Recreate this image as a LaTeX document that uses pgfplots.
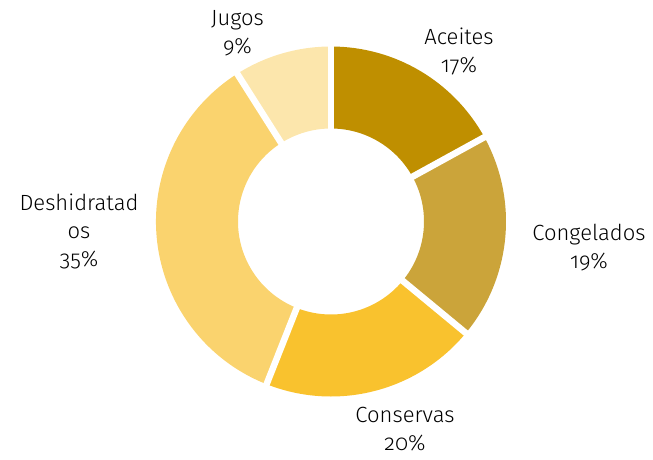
\documentclass[border=0pt]{standalone}
\usepackage{pgfplots}
\pgfplotsset{compat=1.18}
\usepackage{pgfplotstable}
\usepackage{fontspec}
\setmainfont{Fira Sans Light}[Numbers=OldStyle]

\definecolor{cAce}{HTML}{BF8F00}
\definecolor{cCon}{HTML}{CBA43A}
\definecolor{cCsv}{HTML}{F9C22E}
\definecolor{cDes}{HTML}{FAD36E}
\definecolor{cJug}{HTML}{FCE6AC}

% share (%) of each category, clockwise from 12 o'clock
\pgfplotstableread{
name          value col
Aceites       17    cAce
Congelados    19    cCon
Conservas     20    cCsv
Deshidratados 35    cDes
Jugos         9     cJug
}\piedata

\begin{document}
\begin{tikzpicture}
\begin{axis}[
    hide axis,
    scale only axis,
    width=653pt, height=459pt,
    xmin=0, xmax=653, ymin=0, ymax=459,
    clip=false,
]
% keep the whole canvas in the bounding box
\path (axis cs:0,0) rectangle (axis cs:653,459);
\pgfplotsextra{%
  \gdef\cum{0}%
  \pgfplotstablegetrowsof{\piedata}%
  \pgfmathtruncatemacro\nrows{\pgfplotsretval-1}%
  \foreach \i in {0,...,\nrows}{%
    \pgfplotstablegetelem{\i}{value}\of\piedata \let\sliceval\pgfplotsretval
    \pgfplotstablegetelem{\i}{col}\of\piedata \let\slicecol\pgfplotsretval
    \pgfmathsetmacro\aA{90-3.6*\cum}%
    \pgfmathsetmacro\aB{90-3.6*(\cum+\sliceval)}%
    \fill[fill=\slicecol, shift={(axis cs:331,237.5)}]
      (\aA:175pt) arc[start angle=\aA, end angle=\aB, radius=175pt]
      -- (\aB:93pt) arc[start angle=\aB, end angle=\aA, radius=93pt] -- cycle;
    \pgfmathsetmacro\newcum{\cum+\sliceval}%
    \xdef\cum{\newcum}%
  }%
  % white gaps between slices
  \gdef\cum{0}%
  \foreach \i in {0,...,\nrows}{%
    \pgfplotstablegetelem{\i}{value}\of\piedata \let\sliceval\pgfplotsretval
    \pgfmathsetmacro\aA{90-3.6*\cum}%
    \draw[white, line width=6.5pt, shift={(axis cs:331,237.5)}]
      (\aA:90pt) -- (\aA:178pt);
    \pgfmathsetmacro\newcum{\cum+\sliceval}%
    \xdef\cum{\newcum}%
  }%
}
\begin{scope}[every node/.style={font=\fontsize{22}{28}\selectfont, align=center, text=black}]
\node at (axis cs:459,408) {Aceites\\17\%};
\node at (axis cs:589,211) {Congelados\\19\%};
\node at (axis cs:405,30) {Conservas\\20\%};
\node at (axis cs:79,228) {Deshidratad\\os\\35\%};
\node at (axis cs:237.5,426) {Jugos\\9\%};
\end{scope}
\end{axis}
\end{tikzpicture}
\end{document}
